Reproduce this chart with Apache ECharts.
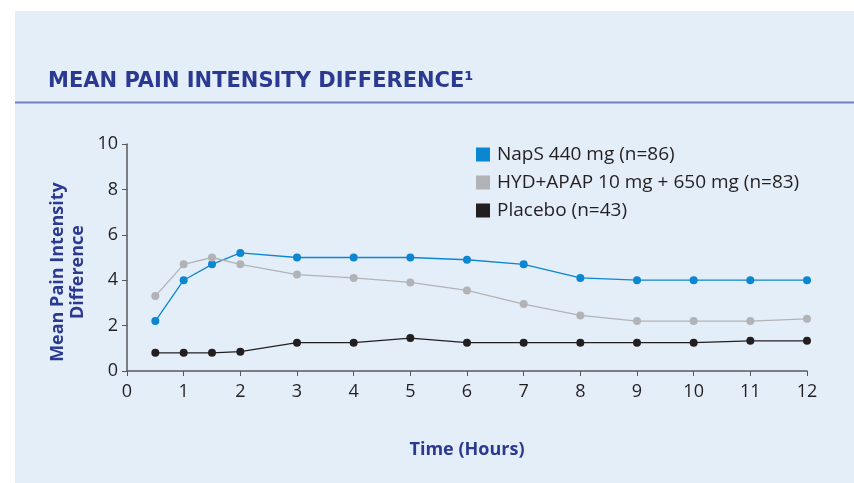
<!DOCTYPE html>
<html>
<head>
<meta charset="utf-8">
<script src="https://cdn.jsdelivr.net/npm/echarts@6/dist/echarts.min.js"></script>
<style>
    html, body { margin: 0; padding: 0; background: #ffffff; }
    #chart { width: 854px; height: 483px; }
</style>
</head>
<body>
<div id="chart"></div>
<script>
// 数据
var hours = [0.5, 1, 1.5, 2, 3, 4, 5, 6, 7, 8, 9, 10, 11, 12];
var naps = [2.2, 4.0, 4.7, 5.2, 5.0, 5.0, 5.0, 4.9, 4.7, 4.1, 4.0, 4.0, 4.0, 4.0];
var hydApap = [3.3, 4.7, 5.0, 4.7, 4.25, 4.1, 3.9, 3.55, 2.95, 2.45, 2.2, 2.2, 2.2, 2.3];
var placebo = [0.8, 0.8, 0.8, 0.85, 1.25, 1.25, 1.45, 1.25, 1.25, 1.25, 1.25, 1.25, 1.33, 1.33];
var seriesNames = ["NapS 440 mg (n=86)", "HYD+APAP 10 mg + 650 mg (n=83)", "Placebo (n=43)"];

var navy = "#2b3990";
var font = "'Open Sans', sans-serif";

function pairs(values) {
    return hours.map(function (h, i) { return [h, values[i]]; });
}

var myChart = echarts.init(document.getElementById("chart"));

function lineSeries(name, values, color) {
    return {
        name: name,
        type: "line",
        data: pairs(values),
        symbol: "circle",
        symbolSize: 8,
        showSymbol: true,
        lineStyle: { color: color, width: 1.3 },
        itemStyle: { color: color },
        emphasis: { disabled: true },
        z: 3
    };
}

myChart.setOption({
    backgroundColor: "#ffffff",
    animation: false,
    graphic: [
        {
            type: "rect",
            z: -10,
            shape: { x: 15, y: 11, width: 839, height: 472 },
            style: { fill: "#e4eef8" }
        },
        {
            type: "rect",
            z: -9,
            shape: { x: 15, y: 101.5, width: 839, height: 2 },
            style: { fill: "#7181c2" }
        },
        {
            type: "text",
            left: 48,
            top: 71,
            style: {
                text: "MEAN PAIN INTENSITY DIFFERENCE¹",
                fill: navy,
                font: "bold 21px 'DejaVu Sans', sans-serif"
            }
        },
        {
            type: "text",
            x: 68,
            y: 272,
            rotation: Math.PI / 2,
            style: {
                text: "Mean Pain Intensity\nDifference",
                fill: navy,
                font: "bold 18px " + font,
                align: "center",
                verticalAlign: "middle",
                lineHeight: 20
            }
        }
    ],
    legend: {
        orient: "vertical",
        left: 471,
        top: 140,
        icon: "rect",
        itemWidth: 14,
        itemHeight: 14,
        itemGap: 9,
        data: seriesNames,
        textStyle: {
            color: "#231f20",
            fontSize: 19,
            lineHeight: 19,
            fontFamily: font,
            padding: [0, 0, 0, 2]
        }
    },
    grid: {
        left: 127,
        right: 47,
        top: 144,
        bottom: 112,
        containLabel: false
    },
    xAxis: {
        type: "value",
        min: 0,
        max: 12,
        interval: 1,
        name: "Time (Hours)",
        nameLocation: "middle",
        nameGap: 70,
        nameTextStyle: { color: navy, fontSize: 18, fontWeight: "bold", fontFamily: font },
        axisLine: { show: true, lineStyle: { color: "#58585a", width: 1.5 } },
        axisTick: { show: true, length: 5, lineStyle: { color: "#58585a" } },
        axisLabel: { color: "#231f20", fontSize: 18, fontFamily: font, margin: 12 },
        splitLine: { show: false }
    },
    yAxis: {
        type: "value",
        min: 0,
        max: 10,
        interval: 2,
        axisLine: { show: true, lineStyle: { color: "#58585a", width: 1.5 } },
        axisTick: { show: true, length: 5, lineStyle: { color: "#58585a" } },
        axisLabel: { color: "#231f20", fontSize: 18, fontFamily: font, margin: 9 },
        splitLine: { show: false }
    },
    series: [
        lineSeries(seriesNames[0], naps, "#0b86d1"),
        lineSeries(seriesNames[1], hydApap, "#b2b3b6"),
        lineSeries(seriesNames[2], placebo, "#231f20")
    ]
});
</script>
</body>
</html>
